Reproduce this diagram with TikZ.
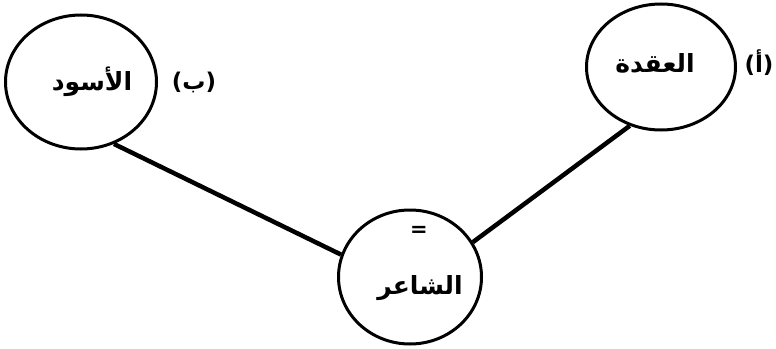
\documentclass[tikz,border=0pt]{standalone}
\usepackage{fontspec}
\newfontfamily\arabicfont[Script=Arabic]{DejaVu Sans}
\TeXXeTstate=1
\usetikzlibrary{shapes.geometric}
\begin{document}
\begin{tikzpicture}[x=1pt,y=-1pt,
        circ/.style={draw, ellipse, line width=3pt, inner sep=0pt},
        word/.style={font=\arabicfont\bfseries\fontsize{25}{28}\selectfont, inner sep=0pt},
        mark label/.style={font=\arabicfont\bfseries\fontsize{23}{26}\selectfont, inner sep=0pt}]
        \useasboundingbox (0,0) rectangle (776,348);
        % the three circles
        \node[circ, minimum width=151pt, minimum height=134pt] (aswad) at (81,82) {};
        \node[circ, minimum width=149pt, minimum height=126pt] (uqda) at (661,67) {};
        \node[circ, minimum width=143pt, minimum height=134pt] (shaer) at (410,277) {};

        % words in the circles
        \node[word] (taswad) at (92,82) {\beginR الأسود\endR};
        \node[word] (tuqda) at (655,63) {\beginR العقدة\endR};
        \node[word] (tshaer) at (420,288) {\beginR الشاعر\endR};
        \node[word, font=\arabicfont\bfseries\fontsize{21}{24}\selectfont] (eq) at (419,231) {=};

        % letters beside them
        \node[mark label] (labB) at (194,82) {\beginR(ب)\endR};
        \node[mark label] (labA) at (759,63) {\beginR(أ)\endR};

        \draw[line width=4.5pt] (aswad.-62) -- (shaer.162);
        \draw[line width=4.5pt] (uqda.-118) -- (shaer.29);
    \end{tikzpicture}
\end{document}
